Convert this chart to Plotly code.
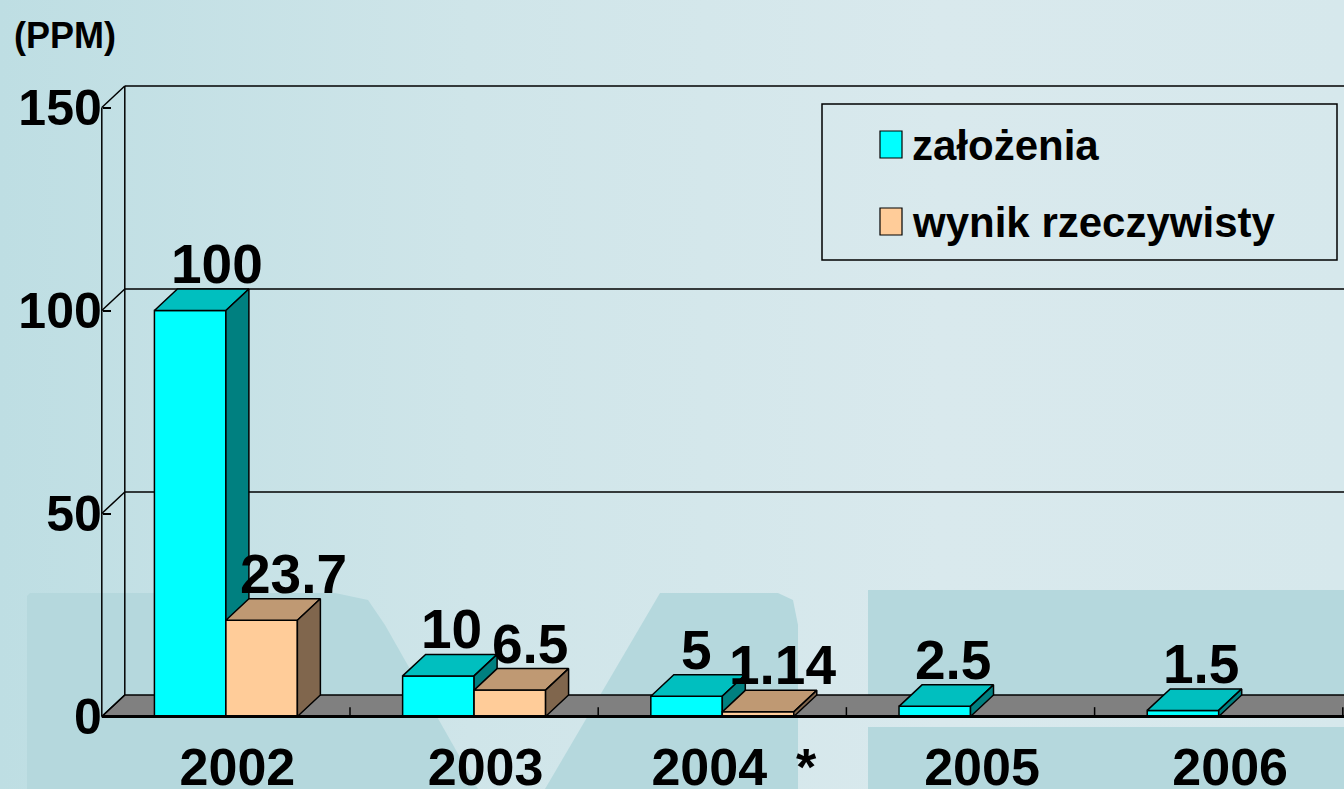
import plotly.graph_objects as go

# ---------------- data ----------------
years = ["2002", "2003", "2004", "2005", "2006"]
year_labels = ["2002", "2003", "2004  *", "2005", "2006"]
zalozenia = [100, 10, 5, 2.5, 1.5]
wynik = [23.7, 6.5, 1.14, None, None]
zalozenia_text = ["100", "10", "5", "2.5", "1.5"]
wynik_text = ["23.7", "6.5", "1.14", "", ""]
y_ticks = [0, 50, 100, 150]
series_names = ["założenia", "wynik rzeczywisty"]
unit_label = "(PPM)"

# ---------------- styling / geometry ----------------
W, H = 1344, 789
FONT = "Arial, Liberation Sans, sans-serif"
X0PX, CATPX = 101.8, 248.2      # pixel of category -0.5 and one category width
Y0PX, UNITPX = 716.5, 4.06      # pixel of value 0 and pixels per unit
DXPX, DYPX = 23.0, 21.5         # 3-D depth offset in pixels
DX, DY = DXPX / CATPX, DYPX / UNITPX
BW = 0.288                       # bar width (category units)
XR = [-0.5 - X0PX / CATPX, -0.5 + (W - X0PX) / CATPX]
YR = [-(H - Y0PX) / UNITPX, Y0PX / UNITPX]
YMAX = 150

COL = {
    "cyan": dict(front="#00FFFF", top="#00BFBF", side="#008080"),
    "peach": dict(front="#FFCC99", top="#BF9973", side="#80664D"),
}
label_dx_zal = [27, 13, 10, 18, 18]
label_dx_wyn = [32, 20, 24, 0, 0]

fig = go.Figure()

# ---------------- background (pixel-coordinate subplot x/y) ----------------
fig.add_trace(go.Scatter(
    x=[0, W, W, 0, 0], y=[0, 0, H, H, 0], mode="lines", fill="toself",
    line=dict(width=0), hoverinfo="skip", showlegend=False,
    fillgradient=dict(type="horizontal",
                      colorscale=[[0, "#bedee3"], [0.35, "#cfe5e9"], [0.7, "#d9e9ed"], [1, "#d6e8ec"]]),
    xaxis="x", yaxis="y"))
wm_color = "#b5d8dd"
watermark = [
    [(27, 596), (30, 593), (335, 593), (368, 600), (385, 625), (478, 789), (27, 789)],
    [(545, 789), (660, 593), (778, 593), (793, 600), (798, 625), (798, 789)],
    [(868, 590), (W, 590), (W, 716), (868, 716)],
    [(868, 727), (W, 727), (W, H), (868, H)],
]
for poly in watermark:
    xs = [p[0] for p in poly] + [poly[0][0]]
    ys = [p[1] for p in poly] + [poly[0][1]]
    fig.add_trace(go.Scatter(x=xs, y=ys, mode="lines", fill="toself", fillcolor=wm_color,
                             line=dict(width=0), hoverinfo="skip", showlegend=False,
                             xaxis="x", yaxis="y"))


def poly_trace(pts, fill, lw=1.5):
    xs = [p[0] for p in pts] + [pts[0][0]]
    ys = [p[1] for p in pts] + [pts[0][1]]
    return go.Scatter(x=xs, y=ys, mode="lines", fill="toself", fillcolor=fill,
                      line=dict(color="black", width=lw), hoverinfo="skip",
                      showlegend=False, xaxis="x2", yaxis="y2")


def line_trace(segs, lw=1.5):
    xs, ys = [], []
    for (a, b) in segs:
        xs += [a[0], b[0], None]
        ys += [a[1], b[1], None]
    return go.Scatter(x=xs, y=ys, mode="lines", line=dict(color="black", width=lw),
                      hoverinfo="skip", showlegend=False, xaxis="x2", yaxis="y2")


# ---------------- chart frame ----------------
xl = -0.5
xr = XR[1] + 0.05
# floor
fig.add_trace(poly_trace([(xl, 0), (xr, 0), (xr + DX, DY), (xl + DX, DY)], "#808080"))
frame = []
for v in y_ticks[1:]:
    frame.append(((xl + DX, v + DY), (xr, v + DY)))        # back-wall gridlines
for v in y_ticks:
    frame.append(((xl, v), (xl + DX, v + DY)))              # side-wall diagonals
frame.append(((xl, 0), (xl, YMAX)))                           # front axis
frame.append(((xl + DX, DY), (xl + DX, YMAX + DY)))          # back-left edge
for i in range(len(years)):
    b = i + 0.5
    frame.append(((b, 0), (b, 2.3)))                          # category ticks
fig.add_trace(line_trace(frame, 1.5))

# ---------------- 3-D bars ----------------
def bar_faces(x0, x1, h, c):
    fig.add_trace(poly_trace([(x0, 0), (x1, 0), (x1, h), (x0, h)], c["front"]))
    fig.add_trace(poly_trace([(x0, h), (x1, h), (x1 + DX, h + DY), (x0 + DX, h + DY)], c["top"]))
    fig.add_trace(poly_trace([(x1, 0), (x1 + DX, DY), (x1 + DX, h + DY), (x1, h)], c["side"]))


for i in range(len(years)):
    if zalozenia[i] is not None:
        bar_faces(i - BW, i, zalozenia[i], COL["cyan"])
    if wynik[i] is not None:
        bar_faces(i, i + BW, wynik[i], COL["peach"])

fig.add_trace(line_trace([((xl, 0), (xr, 0))], 3))

# ---------------- value labels ----------------
annotations = []
lab_font = dict(family=FONT, size=55, color="black", weight="bold")
for i in range(len(years)):
    for vals, texts, dxs, off in ((zalozenia, zalozenia_text, label_dx_zal, -BW / 2),
                                  (wynik, wynik_text, label_dx_wyn, BW / 2)):
        if vals[i] is None:
            continue
        annotations.append(dict(
            x=i + off, y=vals[i] + DY, xref="x2", yref="y2", text=texts[i],
            showarrow=False, xanchor="center", yanchor="bottom",
            xshift=dxs[i], yshift=-8, font=lab_font))

# unit title
annotations.append(dict(x=12, y=35, xref="x", yref="y", text=unit_label, showarrow=False,
                        xanchor="left", yanchor="middle",
                        font=dict(family=FONT, size=36, color="black", weight="bold")))

# ---------------- legend (drawn) ----------------
shapes = [dict(type="rect", xref="x", yref="y", x0=822, x1=1337, y0=104, y1=260,
               line=dict(color="black", width=1.5), fillcolor="rgba(0,0,0,0)", layer="above")]
leg_y = [144.5, 221.5]
leg_cols = [COL["cyan"]["front"], COL["peach"]["front"]]
for name, ly, lc in zip(series_names, leg_y, leg_cols):
    shapes.append(dict(type="rect", xref="x", yref="y", x0=880, x1=902, y0=ly - 13.5, y1=ly + 13.5,
                       line=dict(color="black", width=1.2), fillcolor=lc, layer="above"))
    annotations.append(dict(x=910, y=ly + 1, xref="x", yref="y", text=name, showarrow=False,
                            xanchor="left", yanchor="middle",
                            font=dict(family=FONT, size=42, color="black", weight="bold")))

fig.update_layout(
    width=W, height=H, margin=dict(l=0, r=0, t=0, b=0, autoexpand=False),
    paper_bgcolor="#d3e6ea", plot_bgcolor="rgba(0,0,0,0)",
    showlegend=False,
    xaxis=dict(domain=[0, 1], range=[0, W], visible=False, fixedrange=True, automargin=False),
    yaxis=dict(domain=[0, 1], range=[H, 0], visible=False, fixedrange=True, automargin=False),
    xaxis2=dict(domain=[0, 1], range=XR, anchor="free", position=(H - Y0PX) / H,
                showgrid=False, zeroline=False, showline=False, ticks="",
                tickvals=[i + DX / 2 for i in range(len(years))], ticktext=year_labels,
                tickfont=dict(family=FONT, size=52, color="black", weight="bold"),
                ticklabelstandoff=15, fixedrange=True, automargin=False),
    yaxis2=dict(domain=[0, 1], range=YR, anchor="free", position=X0PX / W,
                showgrid=False, zeroline=False, showline=False,
                ticks="inside", ticklen=8, tickcolor="black", tickwidth=1.5,
                tickvals=y_ticks, ticktext=[str(v) for v in y_ticks],
                tickfont=dict(family=FONT, size=50, color="black", weight="bold"),
                fixedrange=True, automargin=False),
    annotations=annotations, shapes=shapes,
)

fig.write_html(
    "out.html",
    config={"displayModeBar": False},
    post_script="document.body.style.margin='0';document.body.style.overflow='hidden';",
)
